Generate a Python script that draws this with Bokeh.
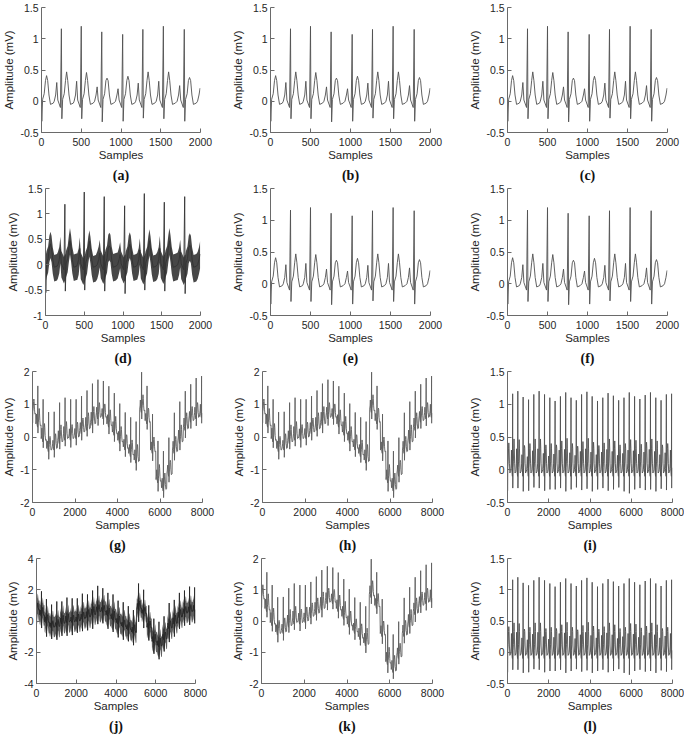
import numpy as np
from bokeh.plotting import figure
from bokeh.layouts import column, row
from bokeh.models import Range1d, FixedTicker, CustomJSTickFormatter, Title
from bokeh.embed import file_html
from bokeh.resources import INLINE

# ---------------- data ----------------
# beat morphology: sample offsets relative to the R peak and the fixed levels (mV)
wave_off = [-90, -72, -58, -45, -12, 0, 6, 16, 36, 52, 66, 80, 96, 115, 150]
wave_lvl = [0.00, 0.10, None, 0.02, -0.10, None, None, 0.03, 0.12, 0.33, None, 0.33, 0.10, -0.05, -0.03]

# clean ECG, 2000-sample window (panels a, b, c, e, f)
r_pos_2k = [-2, 250, 500, 758, 1021, 1275, 1533, 1796, 2053]
r_amp_2k = [0.00, 1.16, 1.20, 1.11, 1.07, 1.15, 1.20, 1.15, 1.10]
s_amp_2k = [-0.32, -0.28, -0.28, -0.33, -0.32, -0.27, -0.28, -0.32, -0.30]
p_amp_2k = [0.28, 0.30, 0.32, 0.23, 0.20, 0.29, 0.32, 0.25, 0.21]
t_amp_2k = [0.41, 0.47, 0.46, 0.37, 0.40, 0.47, 0.47, 0.38, 0.40]
end_2k = 1995

# noisy ECG (panel d)
r_amp_d = [0.00, 1.19, 1.43, 1.34, 1.16, 1.40, 1.23, 1.34, 1.30]
s_amp_d = [-0.55, -0.52, -0.50, -0.52, -0.57, -0.50, -0.52, -0.57, -0.50]
noise_hi_d = [0.24, 0.25, 0.22, 0.26, 0.24, 0.23, 0.25, 0.24, 0.25]
noise_lo_d = [0.28, 0.27, 0.30, 0.28, 0.27, 0.29, 0.28, 0.30, 0.28]

# clean ECG, 8000-sample window (panels i, l)
r_pos_8k = r_pos_2k + [2308, 2566, 2822, 3080, 3336, 3592, 3850, 4106, 4364, 4620,
                       4876, 5134, 5390, 5648, 5904, 6162, 6418, 6676, 6932, 7190,
                       7446, 7702, 7958]
r_amp_8k = r_amp_2k + [1.05, 1.12, 1.18, 1.10, 1.06, 1.15, 1.19, 1.12, 1.05, 1.10,
                       1.17, 1.13, 1.06, 1.10, 1.18, 1.12, 1.08, 1.14, 1.18, 1.10,
                       1.06, 1.15, 1.16]
s_amp_8k = s_amp_2k + [-0.30, -0.28, -0.33, -0.30, -0.27, -0.31, -0.29, -0.33, -0.30, -0.28,
                       -0.32, -0.30, -0.27, -0.33, -0.36, -0.30, -0.28, -0.31, -0.30, -0.33,
                       -0.29, -0.31, -0.28]
p_amp_8k = p_amp_2k + [0.24, 0.30, 0.31, 0.26, 0.22, 0.28, 0.32, 0.27, 0.23, 0.27,
                       0.31, 0.28, 0.22, 0.25, 0.30, 0.29, 0.24, 0.27, 0.31, 0.28,
                       0.23, 0.26, 0.30]
t_amp_8k = t_amp_2k + [0.38, 0.44, 0.48, 0.40, 0.36, 0.43, 0.48, 0.42, 0.37, 0.41,
                       0.47, 0.44, 0.38, 0.40, 0.46, 0.45, 0.39, 0.42, 0.47, 0.44,
                       0.38, 0.40, 0.45]
end_8k = 7975

# baseline wander at each beat (panels g, h, k, j)
wander_8k = [0.75, 0.40, -0.05, -0.35, -0.30, -0.10, 0.00, 0.00, 0.05, 0.20,
             0.30, 0.45, 0.65, 0.65, 0.40, 0.15, -0.10, -0.30, -0.50, -0.70,
             0.85, 0.50, -0.40, -1.30, -1.55, -1.10, -0.40, -0.10, 0.30, 0.55,
             0.65, 0.70]

# noisy ECG with wander (panel j)
r_amp_j = [0.00, 1.50, 1.45, 1.40, 1.55, 1.35, 1.50, 1.45, 1.40, 1.55,
           1.40, 1.50, 1.60, 1.45, 1.40, 1.55, 1.40, 1.50, 1.45, 1.40,
           1.55, 1.50, 1.40, 1.45, 1.50, 1.40, 1.55, 1.45, 1.50, 1.40,
           1.55, 1.45]
s_amp_j = [-0.90, -0.85, -0.95, -0.80, -0.90, -0.85, -0.95, -0.90, -0.80, -0.85,
           -0.90, -0.95, -0.85, -0.80, -0.90, -0.85, -0.95, -0.90, -0.80, -0.85,
           -0.90, -0.95, -0.85, -0.80, -0.90, -0.85, -0.95, -0.90, -0.80, -0.85,
           -0.90, -0.85]
noise_hi_j = [0.60, 0.65, 0.60, 0.65, 0.60, 0.65, 0.60, 0.65, 0.60, 0.65,
              0.60, 0.65, 0.60, 0.65, 0.60, 0.65, 0.60, 0.65, 0.60, 0.65,
              0.55, 0.50, 0.60, 0.65, 0.60, 0.65, 0.60, 0.65, 0.60, 0.65,
              0.60, 0.65]
noise_lo_j = [0.70, 0.65, 0.70, 0.65, 0.70, 0.65, 0.70, 0.65, 0.70, 0.65,
              0.70, 0.65, 0.70, 0.65, 0.70, 0.65, 0.70, 0.65, 0.70, 0.65,
              0.60, 0.55, 0.70, 0.65, 0.70, 0.65, 0.70, 0.65, 0.70, 0.65,
              0.70, 0.65]

x_ticks_2k = [0, 500, 1000, 1500, 2000]
x_ticks_8k = [0, 2000, 4000, 6000, 8000]
y_ticks_a = [-0.5, 0, 0.5, 1, 1.5]
y_ticks_d = [-1, -0.5, 0, 0.5, 1, 1.5]
y_ticks_g = [-2, -1, 0, 1, 2]
y_ticks_j = [-4, -2, 0, 2, 4]

P_IDX, R_IDX, S_IDX, T_IDX = 2, 5, 6, 10


# ---------------- build polylines from the beat values ----------------
def build(r_pos, r_amp, s_amp, p_amp, t_amp, end, base=None, spikes=True):
    xs, ys, ks = [], [], []
    for k, r in enumerate(r_pos):
        b = base[k] if base is not None else 0.0
        for idx, (off, lvl) in enumerate(zip(wave_off, wave_lvl)):
            x = r + off
            if x > end:
                break
            if idx == P_IDX:
                v = p_amp[k]
            elif idx == R_IDX:
                v = r_amp[k] if spikes else -0.05
            elif idx == S_IDX:
                v = s_amp[k] if spikes else -0.05
            elif idx == T_IDX:
                v = t_amp[k]
            else:
                v = lvl
            xs.append(x)
            ys.append(v + b)
            ks.append(k)
    return np.array(xs, float), np.array(ys, float), np.array(ks, int)


LINE = "#505050"
AX = "#6a6a6a"
TXT = "#262626"


def make_panel(letter, xmax, xticks, ylo, yhi, yticks, width, left, right, height, top, bottom):
    p = figure(width=width, height=height, x_range=Range1d(0, xmax), y_range=Range1d(ylo, yhi),
               output_backend="svg", toolbar_location=None,
               min_border_left=left, min_border_right=right,
               min_border_top=top, min_border_bottom=bottom)
    p.title.visible = False
    p.outline_line_color = None
    p.xgrid.visible = False
    p.ygrid.visible = False
    for ax in (p.xaxis[0], p.yaxis[0]):
        ax.major_tick_in = 4
        ax.major_tick_out = 0
        ax.minor_tick_line_color = None
        ax.axis_line_color = AX
        ax.major_tick_line_color = AX
        ax.major_label_text_font = "Liberation Sans"
        ax.major_label_text_font_size = "10.5px"
        ax.major_label_text_color = TXT
        ax.axis_label_text_font = "Liberation Sans"
        ax.axis_label_text_font_size = "11.5px"
        ax.axis_label_text_font_style = "normal"
        ax.axis_label_text_color = TXT
        ax.formatter = CustomJSTickFormatter(code="return tick.toString();")
    p.xaxis[0].major_label_standoff = 5
    p.xaxis[0].axis_label_standoff = 0
    p.yaxis[0].major_label_standoff = 3
    p.yaxis[0].axis_label_standoff = 2
    p.xaxis[0].ticker = FixedTicker(ticks=xticks)
    p.yaxis[0].ticker = FixedTicker(ticks=yticks)
    p.xaxis[0].axis_label = "Samples"
    p.yaxis[0].axis_label = "Amplitude (mV)"
    p.add_layout(Title(text="(%s)" % letter, align="center", text_font="Liberation Serif",
                       text_font_style="bold", text_font_size="14px", text_color="#111111",
                       standoff=4), "below")
    return p


# geometry of the 4 x 3 grid (page origin at 0,0): (width, left, right) per panel
cols = {
    "a": (228, 40, 28), "b": (222, 42, 20), "c": (232, 57, 15),
    "d": (228, 45, 28), "e": (222, 42, 20), "f": (232, 57, 15),
    "g": (228, 31, 26), "h": (222, 34, 18), "i": (234, 57, 12),
    "j": (228, 36, 33), "k": (222, 33, 18), "l": (234, 57, 12),
}
# (height, top, bottom) per row
rows_geo = [(184, 7, 51), (183, 4, 51), (187, 4, 51), (181, 4, 51)]

x2, y2, _ = build(r_pos_2k, r_amp_2k, s_amp_2k, p_amp_2k, t_amp_2k, end_2k)
x8, y8, _ = build(r_pos_8k, r_amp_8k, s_amp_8k, p_amp_8k, t_amp_8k, end_8k)
xw, yw, _ = build(r_pos_8k, r_amp_8k, s_amp_8k, p_amp_8k, t_amp_8k, end_8k, base=wander_8k)

# noisy d
xds, yds, kd = build(r_pos_2k, r_amp_2k, s_amp_2k, p_amp_2k, t_amp_2k, end_2k, spikes=False)
xd, yd, _ = build(r_pos_2k, r_amp_d, s_amp_d, p_amp_2k, t_amp_2k, end_2k)
d_hi = yds + np.array(noise_hi_d)[kd]
d_lo = yds - np.array(noise_lo_d)[kd]

# noisy j
xjs, yjs, kj = build(r_pos_8k, r_amp_8k, s_amp_8k, p_amp_8k, t_amp_8k, end_8k,
                     base=wander_8k, spikes=False)
xj, yj, _ = build(r_pos_8k, r_amp_j, s_amp_j, p_amp_8k, t_amp_8k, end_8k, base=wander_8k)
j_hi = yjs + np.array(noise_hi_j)[kj]
j_lo = yjs - np.array(noise_lo_j)[kj]

specs = [
    ["a", "b", "c"],
    ["d", "e", "f"],
    ["g", "h", "i"],
    ["j", "k", "l"],
]

panels = {}
for ri, letters in enumerate(specs):
    h, t, b = rows_geo[ri]
    for L in letters:
        w, l, r = cols[L]
        if L in "abcef":
            p = make_panel(L, 2000, x_ticks_2k, -0.5, 1.5, y_ticks_a, w, l, r, h, t, b)
            p.line(x2, y2, line_color=LINE, line_width=0.9)
        elif L == "d":
            p = make_panel(L, 2000, x_ticks_2k, -1, 1.5, y_ticks_d, w, l, r, h, t, b)
            p.varea(x=xds, y1=d_lo, y2=d_hi, fill_color="#474747")
            p.line(xd, yd, line_color="#333333", line_width=0.9)
        elif L in "ghk":
            p = make_panel(L, 8000, x_ticks_8k, -2, 2, y_ticks_g, w, l, r, h, t, b)
            p.line(xw, yw, line_color="#5e5e5e", line_width=0.9)
        elif L in "il":
            p = make_panel(L, 8000, x_ticks_8k, -0.5, 1.5, y_ticks_a, w, l, r, h, t, b)
            p.line(x8, y8, line_color=LINE, line_width=0.9)
        elif L == "j":
            p = make_panel(L, 8000, x_ticks_8k, -4, 4, y_ticks_j, w, l, r, h, t, b)
            p.varea(x=xjs, y1=j_lo, y2=j_hi, fill_color="#5f5f5f")
            p.line(xj, yj, line_color="#262626", line_width=0.9)
        panels[L] = p

layout = column(*[row(*[panels[L] for L in letters]) for letters in specs])

open("out.html", "w").write(file_html(layout, INLINE))
